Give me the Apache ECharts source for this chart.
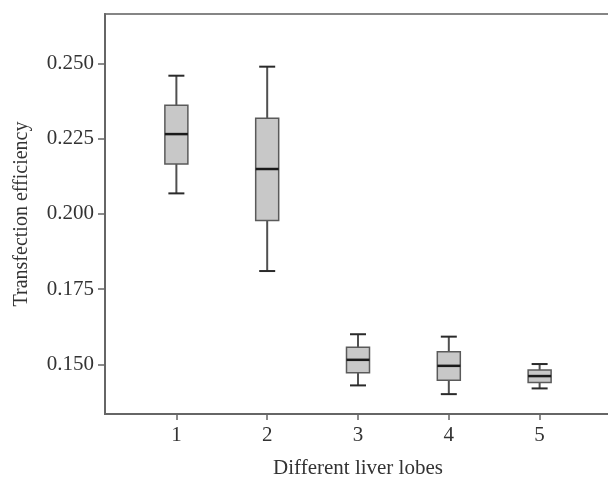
<!DOCTYPE html>
<html>
<head>
<meta charset="utf-8">
<script src="https://cdn.jsdelivr.net/npm/echarts@6/dist/echarts.min.js"></script>
<style>
  html, body { margin: 0; padding: 0; background: #fff; overflow: hidden; }
  #chart { width: 608px; height: 477px; }
</style>
</head>
<body>
<div id="chart"></div>
<script>
// liver lobes 1..5
const categories = ['1', '2', '3', '4', '5']
// [min, Q1, median, Q3, max]
const lowValues = [0.2068, 0.1810, 0.1430, 0.1401, 0.1420]
const q1Values = [0.2166, 0.1978, 0.1472, 0.1447, 0.1440]
const medianValues = [0.2265, 0.2149, 0.1515, 0.1495, 0.1461]
const q3Values = [0.2361, 0.2318, 0.1557, 0.1542, 0.1481]
const highValues = [0.2459, 0.2489, 0.1600, 0.1592, 0.1501]
const yTicks = [0.150, 0.175, 0.200, 0.225, 0.250]
const xTicks = [1, 2, 3, 4, 5]

const boxData = categories.map((c, i) => [i + 1, lowValues[i], q1Values[i], medianValues[i], q3Values[i], highValues[i]])

const chart = echarts.init(document.getElementById('chart'))

const font = 'Liberation Serif'

const renderBox = (params, api) => {
  const x = api.value(0)
  const pLow = api.coord([x, api.value(1)])
  const pQ1 = api.coord([x, api.value(2)])
  const pMed = api.coord([x, api.value(3)])
  const pQ3 = api.coord([x, api.value(4)])
  const pHigh = api.coord([x, api.value(5)])
  const half = 11.5
  const cap = 8
  const cx = pMed[0]
  return {
    type: 'group',
    children: [
      {
        type: 'line',
        shape: {x1: cx, y1: pHigh[1], x2: cx, y2: pQ3[1]},
        style: {stroke: '#505050', lineWidth: 2}
      },
      {
        type: 'line',
        shape: {x1: cx, y1: pQ1[1], x2: cx, y2: pLow[1]},
        style: {stroke: '#505050', lineWidth: 2}
      },
      {
        type: 'line',
        shape: {x1: cx - cap, y1: pHigh[1], x2: cx + cap, y2: pHigh[1]},
        style: {stroke: '#2a2a2a', lineWidth: 2}
      },
      {
        type: 'line',
        shape: {x1: cx - cap, y1: pLow[1], x2: cx + cap, y2: pLow[1]},
        style: {stroke: '#2a2a2a', lineWidth: 2}
      },
      {
        type: 'rect',
        shape: {x: cx - half, y: pQ3[1], width: half * 2, height: pQ1[1] - pQ3[1]},
        style: {fill: '#c8c8c8', stroke: '#5a5a5a', lineWidth: 1.5}
      },
      {
        type: 'line',
        shape: {x1: cx - half, y1: pMed[1], x2: cx + half, y2: pMed[1]},
        style: {stroke: '#1a1a1a', lineWidth: 2.5}
      }
    ]
  }
}

const option = {
  animation: false,
  grid: {
    left: 105,
    top: 14,
    width: 506,
    bottom: 63,
    outerBoundsMode: 'none',
    containLabel: false,
    show: true,
    borderColor: '#858585',
    borderWidth: 2
  },
  xAxis: {
    type: 'value',
    min: 0.214,
    max: 5.786,
    name: 'Different liver lobes',
    nameLocation: 'middle',
    nameGap: 44,
    nameTextStyle: {fontFamily: font, fontSize: 21, color: '#333'},
    splitLine: {show: false},
    axisLine: {show: true, lineStyle: {color: '#666', width: 2}},
    axisTick: {show: true, length: 6, customValues: xTicks, lineStyle: {color: '#666', width: 1.5}},
    axisLabel: {
      customValues: xTicks,
      margin: 11,
      fontFamily: font,
      fontSize: 21,
      color: '#333',
      formatter: (v) => categories[Math.round(v) - 1]
    }
  },
  yAxis: {
    type: 'value',
    min: 0.1335,
    max: 0.2664,
    name: 'Transfection efficiency',
    nameLocation: 'middle',
    nameGap: 73,
    nameTextStyle: {fontFamily: font, fontSize: 20, color: '#333'},
    splitLine: {show: false},
    axisLine: {show: true, lineStyle: {color: '#666', width: 2}},
    axisTick: {show: true, length: 7, customValues: yTicks, lineStyle: {color: '#666', width: 1.5}},
    axisLabel: {
      customValues: yTicks,
      margin: 11,
      fontFamily: font,
      fontSize: 21,
      color: '#333',
      formatter: (v) => v.toFixed(3)
    }
  },
  series: [
    {
      type: 'custom',
      renderItem: renderBox,
      encode: {x: 0, y: [1, 2, 3, 4, 5]},
      data: boxData
    }
  ]
}

chart.setOption(option)
</script>
</body>
</html>
